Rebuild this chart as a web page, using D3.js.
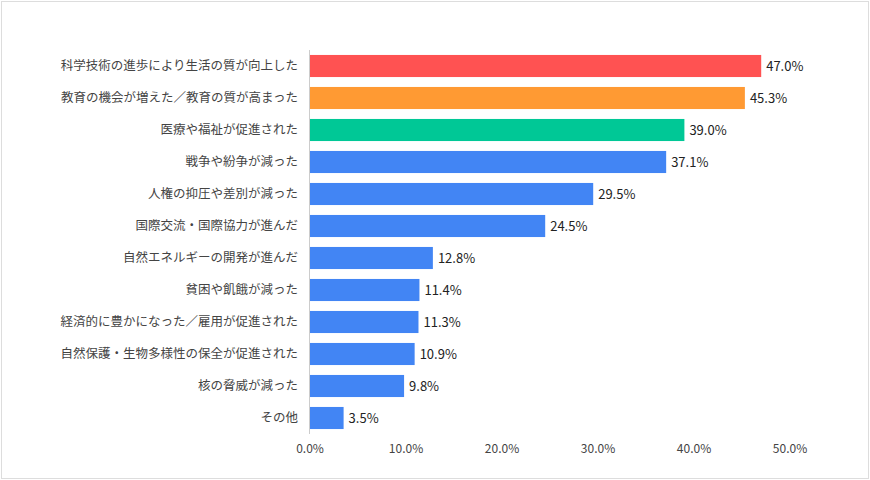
<!DOCTYPE html>
<html><head><meta charset="utf-8">
<script src="https://cdn.jsdelivr.net/npm/d3@7"></script>
<style>body{margin:0;background:#fff}text{font-family:"Noto Sans CJK JP","Liberation Sans",Arial,sans-serif}</style>
</head><body><svg id="c" width="870" height="480"></svg>
<script>
const categories=["科学技術の進歩により生活の質が向上した","教育の機会が増えた／教育の質が高まった","医療や福祉が促進された","戦争や紛争が減った","人権の抑圧や差別が減った","国際交流・国際協力が進んだ","自然エネルギーの開発が進んだ","貧困や飢餓が減った","経済的に豊かになった／雇用が促進された","自然保護・生物多様性の保全が促進された","核の脅威が減った","その他"];
const values=[47.0,45.3,39.0,37.1,29.5,24.5,12.8,11.4,11.3,10.9,9.8,3.5];
const colors=["#FF5252","#FF9A33","#00C896","#4285F4","#4285F4","#4285F4","#4285F4","#4285F4","#4285F4","#4285F4","#4285F4","#4285F4"];
const ticks=[0,10,20,30,40,50];
const svg=d3.select("#c");
svg.append("rect").attr("x",1.5).attr("y",1.5).attr("width",867).attr("height",477).attr("fill","none").attr("stroke","#ddd");
const x=d3.scaleLinear().domain([0,50]).range([310,790]);
const y=d3.scaleBand().domain(categories).range([50,434]).paddingInner(0.31).paddingOuter(0.155);
svg.selectAll(".b").data(values).join("rect").attr("x",x(0)).attr("y",(d,i)=>y(categories[i])).attr("width",d=>x(d)-x(0)).attr("height",y.bandwidth()).attr("fill",(d,i)=>colors[i]);
svg.append("line").attr("x1",x(0)-0.5).attr("x2",x(0)-0.5).attr("y1",50).attr("y2",434).attr("stroke","#ccc");
svg.selectAll(".v").data(values).join("text").attr("x",d=>x(d)+5).attr("y",(d,i)=>y(categories[i])+y.bandwidth()/2).attr("dy","0.35em").attr("font-size",13).attr("fill","#222").text(d=>d.toFixed(1)+"%");
svg.selectAll(".c").data(categories).join("text").attr("x",298).attr("y",d=>y(d)+y.bandwidth()/2).attr("dy","0.35em").attr("text-anchor","end").attr("font-size",12.5).attr("fill","#444").text(d=>d);
svg.selectAll(".t").data(ticks).join("text").attr("x",d=>x(d)).attr("y",453).attr("text-anchor","middle").attr("font-size",12).attr("fill","#444").text(d=>d.toFixed(1)+"%");
</script></body></html>
